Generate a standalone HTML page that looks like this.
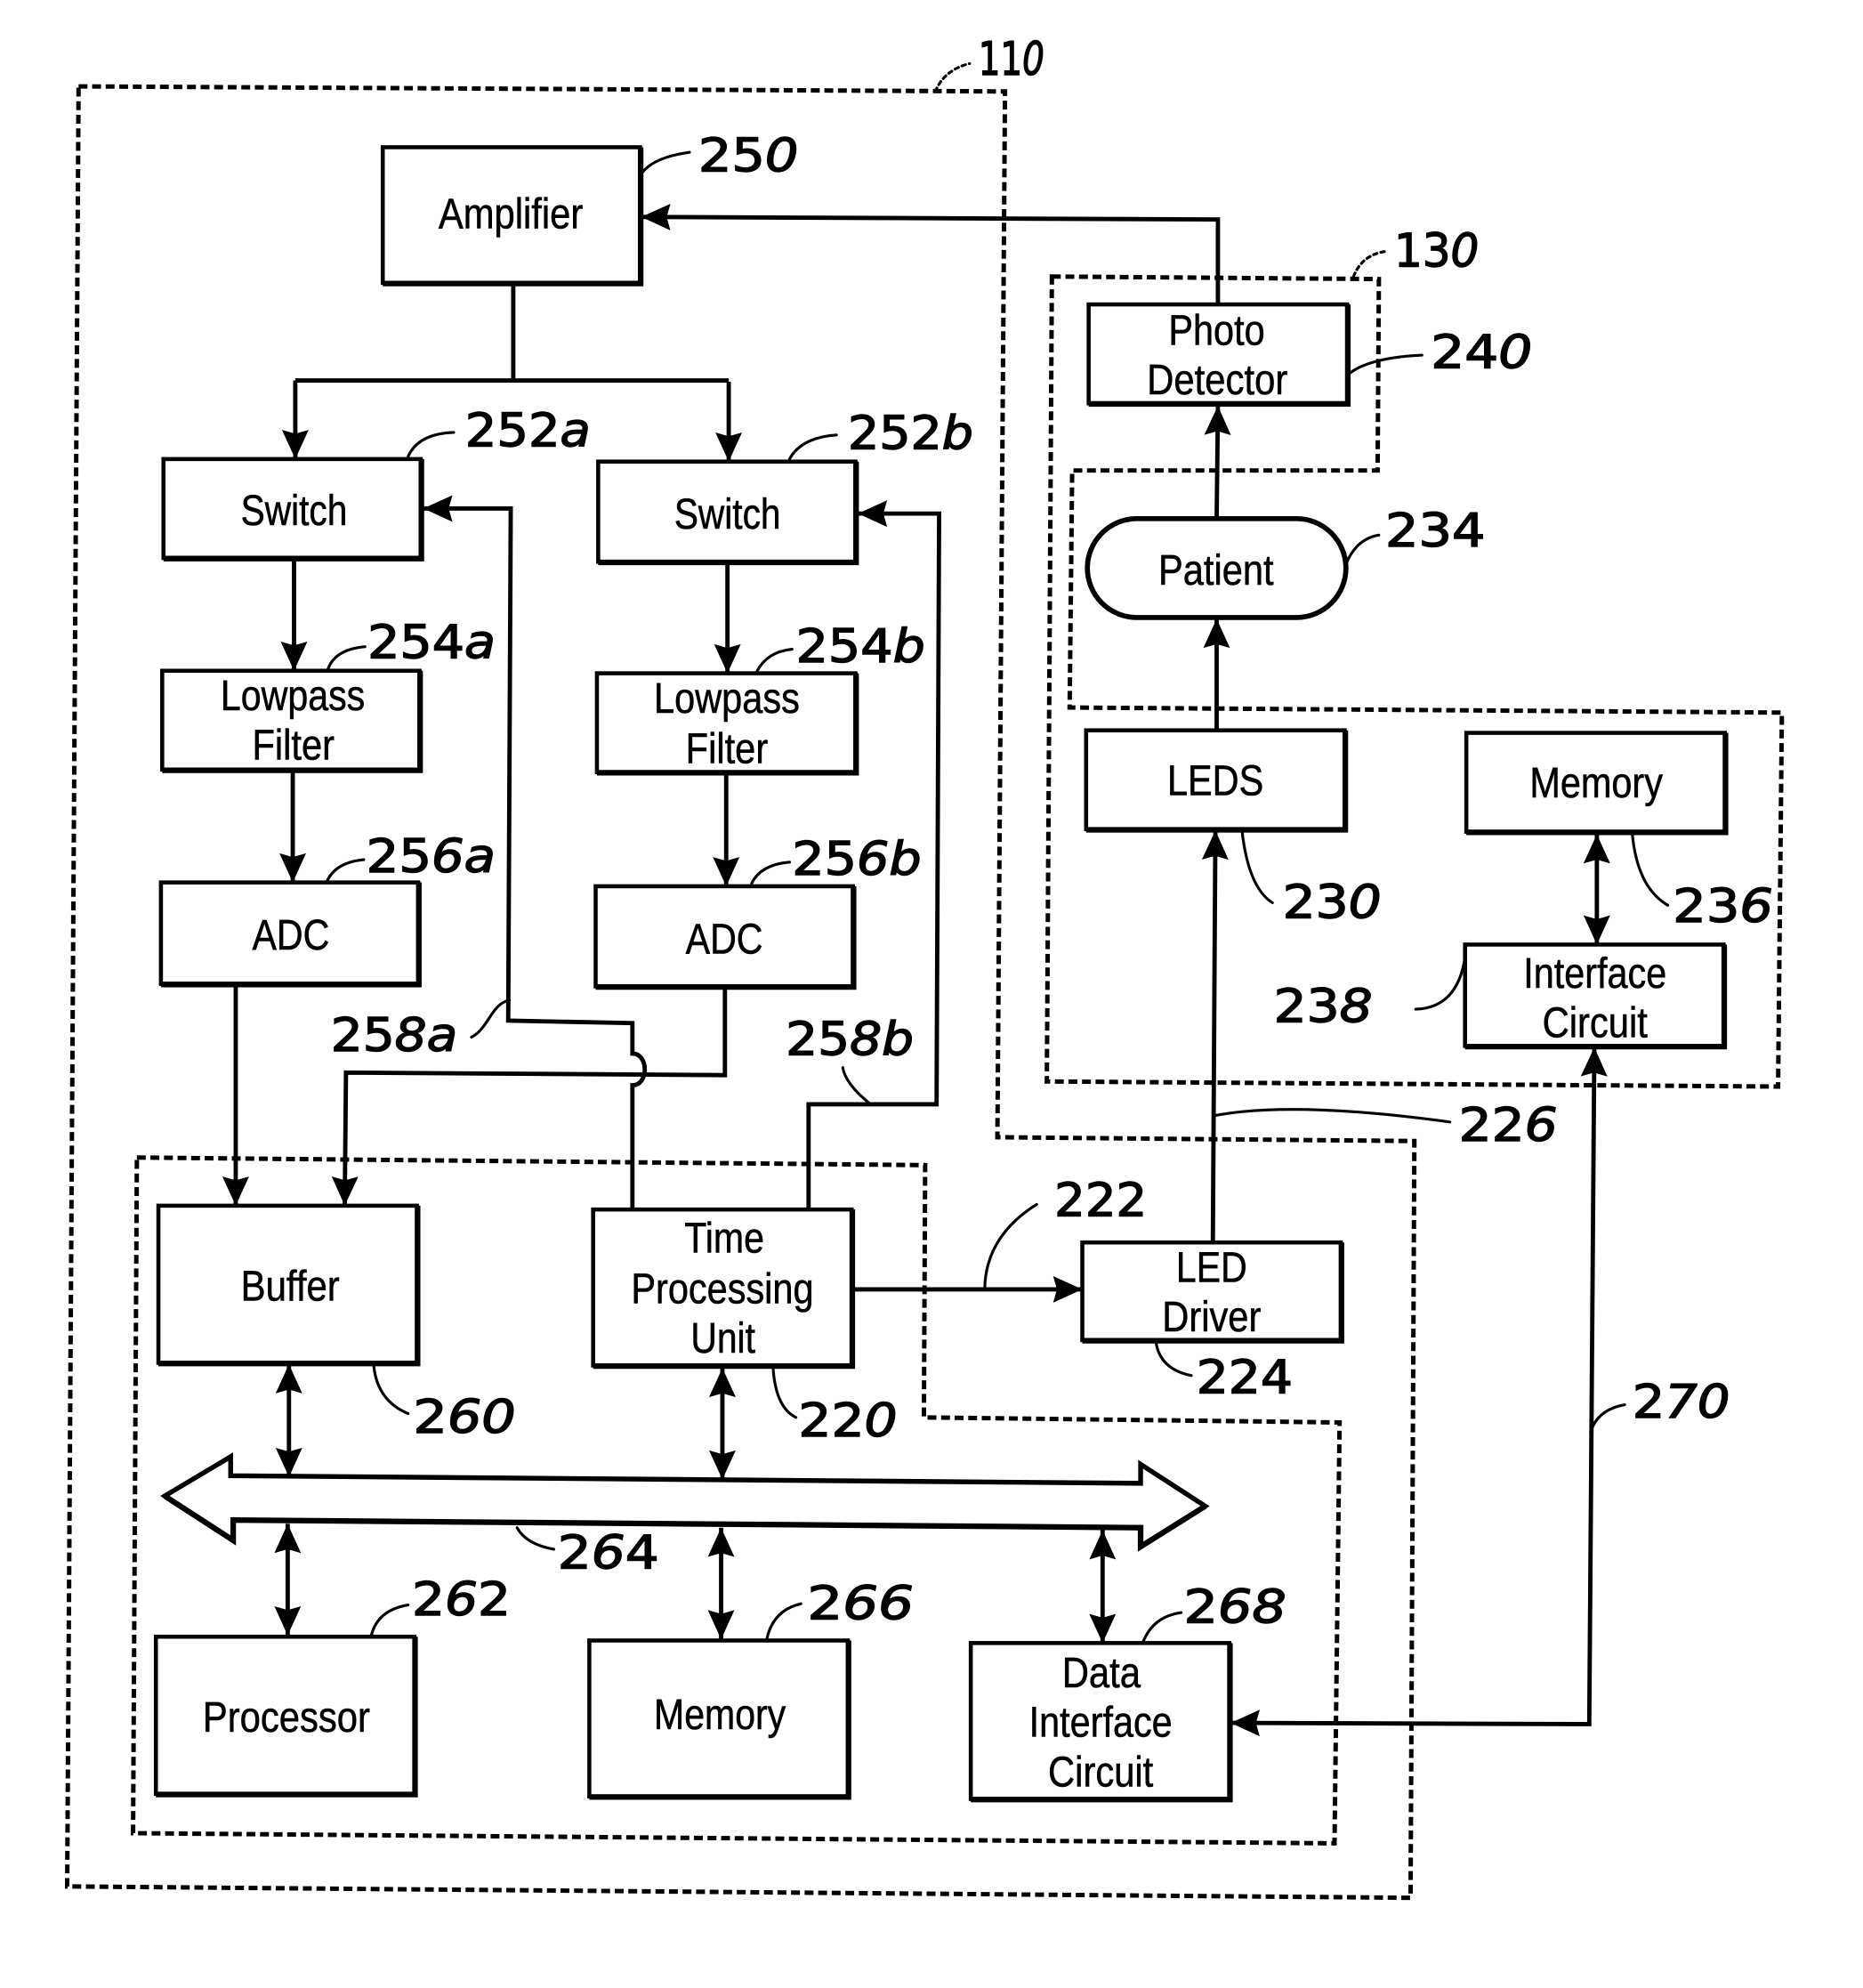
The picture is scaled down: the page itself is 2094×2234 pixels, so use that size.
<!DOCTYPE html>
<html><head><meta charset="utf-8"><title>Block diagram</title>
<style>
html,body{margin:0;padding:0;background:#fff}
svg{display:block}
.b{fill:none;stroke:#000;stroke-width:3.2}
.k{fill:none;stroke:#000;stroke-width:4.4}
.c{fill:none;stroke:#000;stroke-width:3.4;stroke-linejoin:miter}
.d{fill:none;stroke:#000;stroke-width:3.5;stroke-dasharray:7 3.7}
.l{fill:none;stroke:#000;stroke-width:2.2;stroke-linecap:round}
.t{font-family:"Liberation Sans",sans-serif;font-size:34px;fill:#000;stroke:#000;stroke-width:.4}
.n{font-family:"DejaVu Sans",sans-serif;font-size:36px;fill:#000;stroke:#000;stroke-width:1}
.n tspan{font-style:oblique}
</style></head><body>
<svg xmlns="http://www.w3.org/2000/svg" width="2094" height="2234" viewBox="0 0 1470 1568">
<defs>
<marker id="a" markerUnits="userSpaceOnUse" markerWidth="26" markerHeight="26" refX="24" refY="13" orient="auto-start-reverse"><path d="M24 13L1 2.5L4 13L1 23.5Z" fill="#000"/></marker>
</defs>
<rect width="1470" height="1568" fill="#fff"/>

<path class="d" d="M62 68L793 72L787 897L1116 900L1113 1497L53 1488Z"/>
<path class="d" d="M830 218L1088 220L1087 371L846 371L844 558L1406 562L1403 857L826 853Z"/>
<path class="d" d="M108 913L730 919L729 1118L1057 1122L1053 1454L105 1446Z"/>

<path class="c" d="M405 223V300M233 300H575"/>
<path class="c" marker-end="url(#a)" d="M233 300V362"/>
<path class="c" marker-end="url(#a)" d="M575 301V364"/>
<path class="c" marker-end="url(#a)" d="M961 240L961 173L506 171"/>
<path class="c" marker-end="url(#a)" d="M232 440V529"/>
<path class="c" marker-end="url(#a)" d="M574 443V531"/>
<path class="c" marker-end="url(#a)" d="M231 607V696"/>
<path class="c" marker-end="url(#a)" d="M573 609V699"/>
<path class="c" marker-end="url(#a)" d="M186 776V951"/>
<path class="c" marker-end="url(#a)" d="M572 779V848L273 846L272 951"/>
<path class="c" marker-end="url(#a)" d="M499 954V856C512 856 512 831 499 831V807L401 805L403 401H334"/>
<path class="c" marker-end="url(#a)" d="M638 954V871H739L741 405H677"/>
<path class="c" marker-end="url(#a)" d="M960 409L961 320"/>
<path class="c" marker-end="url(#a)" d="M960 576V488"/>
<path class="c" marker-end="url(#a)" d="M957 980L959 655"/>
<path class="c" marker-start="url(#a)" marker-end="url(#a)" d="M1260 658V745"/>
<path class="c" marker-end="url(#a)" d="M672 1017H854"/>
<path class="c" marker-start="url(#a)" marker-end="url(#a)" d="M1258 826L1254 1360L971 1359"/>
<path class="c" marker-start="url(#a)" marker-end="url(#a)" d="M228 1076V1165"/>
<path class="c" marker-start="url(#a)" marker-end="url(#a)" d="M570 1079V1167"/>
<path class="c" marker-start="url(#a)" marker-end="url(#a)" d="M227 1202V1290"/>
<path class="c" marker-start="url(#a)" marker-end="url(#a)" d="M569 1205V1293"/>
<path class="c" marker-start="url(#a)" marker-end="url(#a)" d="M870 1207V1296"/>

<path d="M130 1180L182 1149L182 1164L900 1170L900 1155L951 1188L900 1220L900 1205L184 1199L184 1215Z" fill="#fff" stroke="#000" stroke-width="3.8"/>
<path class="k" stroke-width="5" d="M130 1180L184 1215V1199L900 1205V1220L951 1188"/>

<rect class="b" x="302" y="116" width="203" height="107"/>
<rect class="b" x="129" y="362" width="203" height="78"/>
<rect class="b" x="472" y="364" width="203" height="79"/>
<rect class="b" x="128" y="529" width="203" height="78"/>
<rect class="b" x="471" y="531" width="204" height="78"/>
<rect class="b" x="127" y="696" width="203" height="80"/>
<rect class="b" x="470" y="699" width="203" height="79"/>
<rect class="b" x="859" y="240" width="204" height="78"/>
<rect class="b" x="858" y="409" width="204" height="78" rx="39" ry="39" style="stroke-width:4"/>
<rect class="b" x="857" y="576" width="204" height="78"/>
<rect class="b" x="1157" y="578" width="204" height="78"/>
<rect class="b" x="1156" y="745" width="204" height="80"/>
<rect class="b" x="125" y="951" width="204" height="124"/>
<rect class="b" x="468" y="954" width="204" height="123"/>
<rect class="b" x="854" y="980" width="204" height="77"/>
<rect class="b" x="123" y="1291" width="204" height="124"/>
<rect class="b" x="465" y="1294" width="204" height="123"/>
<rect class="b" x="766" y="1296" width="204" height="123"/>
<path class="k" d="M505.5 116V223.5H302M332.5 362V440.5H129M675.5 364V443.5H472M331.5 529V607.5H128M675.5 531V609.5H471M330.5 696V776.5H127M673.5 699V778.5H470M1063.5 240V318.5H859M1061.5 576V654.5H857M1361.5 578V656.5H1157M1360.5 745V825.5H1156M329.5 951V1075.5H125M672.5 954V1077.5H468M1058.5 980V1057.5H854M327.5 1291V1415.5H123M669.5 1294V1417.5H465M970.5 1296V1419.5H766"/>

<path class="l" d="M506 137Q515 124 544 120M322 360Q330 342 358 341M623 362Q632 345 660 343M259 527Q265 512 288 510M597 530Q605 514 625 512M258 695Q265 680 287 678M593 697Q600 682 623 680M372 818C385 812 388 791 402 789M665 842Q667 855 687 871M295 1078Q298 1105 322 1115M610 1079Q612 1110 628 1118M408 1205Q415 1218 437 1222M293 1290Q298 1270 322 1266M605 1293Q610 1270 632 1265M902 1295Q910 1275 932 1272M1255 1130Q1260 1112 1282 1108M912 1058Q915 1080 940 1085M777 1016Q778 975 818 950M958 880Q1020 868 1144 885M980 655Q985 700 1004 712M1288 658Q1292 700 1316 714M1117 796Q1150 795 1156 755M1062 445Q1070 425 1088 422M1064 295Q1080 282 1122 280"/>
<path class="l" stroke-dasharray="3 3" d="M1068 218Q1075 200 1095 198M738 72Q745 55 765 50"/>

<g class="t">
<text x="346" y="180" textLength="114" lengthAdjust="spacingAndGlyphs">Amplifier</text>
<text x="190" y="414" textLength="84" lengthAdjust="spacingAndGlyphs">Switch</text>
<text x="532" y="417" textLength="84" lengthAdjust="spacingAndGlyphs">Switch</text>
<text x="174" y="560" textLength="114" lengthAdjust="spacingAndGlyphs">Lowpass</text>
<text x="199" y="599" textLength="65" lengthAdjust="spacingAndGlyphs">Filter</text>
<text x="516" y="562" textLength="115" lengthAdjust="spacingAndGlyphs">Lowpass</text>
<text x="541" y="602" textLength="65" lengthAdjust="spacingAndGlyphs">Filter</text>
<text x="199" y="749" textLength="61" lengthAdjust="spacingAndGlyphs">ADC</text>
<text x="541" y="752" textLength="61" lengthAdjust="spacingAndGlyphs">ADC</text>
<text x="922" y="272" textLength="76" lengthAdjust="spacingAndGlyphs">Photo</text>
<text x="905" y="311" textLength="111" lengthAdjust="spacingAndGlyphs">Detector</text>
<text x="914" y="461" textLength="91" lengthAdjust="spacingAndGlyphs">Patient</text>
<text x="921" y="627" textLength="76" lengthAdjust="spacingAndGlyphs">LEDS</text>
<text x="1207" y="629" textLength="105" lengthAdjust="spacingAndGlyphs">Memory</text>
<text x="1202" y="779" textLength="113" lengthAdjust="spacingAndGlyphs">Interface</text>
<text x="1217" y="818" textLength="83" lengthAdjust="spacingAndGlyphs">Circuit</text>
<text x="190" y="1026" textLength="78" lengthAdjust="spacingAndGlyphs">Buffer</text>
<text x="540" y="988" textLength="63" lengthAdjust="spacingAndGlyphs">Time</text>
<text x="498" y="1028" textLength="144" lengthAdjust="spacingAndGlyphs">Processing</text>
<text x="545" y="1067" textLength="51" lengthAdjust="spacingAndGlyphs">Unit</text>
<text x="928" y="1011" textLength="56" lengthAdjust="spacingAndGlyphs">LED</text>
<text x="917" y="1050" textLength="78" lengthAdjust="spacingAndGlyphs">Driver</text>
<text x="160" y="1366" textLength="132" lengthAdjust="spacingAndGlyphs">Processor</text>
<text x="516" y="1364" textLength="104" lengthAdjust="spacingAndGlyphs">Memory</text>
<text x="838" y="1331" textLength="62" lengthAdjust="spacingAndGlyphs">Data</text>
<text x="812" y="1370" textLength="113" lengthAdjust="spacingAndGlyphs">Interface</text>
<text x="827" y="1409" textLength="83" lengthAdjust="spacingAndGlyphs">Circuit</text>
</g>

<g class="n">
<text x="772" y="59" textLength="52" lengthAdjust="spacingAndGlyphs">11<tspan>0</tspan></text>
<text x="551" y="135" textLength="79" lengthAdjust="spacingAndGlyphs">25<tspan>0</tspan></text>
<text x="367" y="352" textLength="99" lengthAdjust="spacingAndGlyphs">252<tspan>a</tspan></text>
<text x="669" y="354" textLength="99" lengthAdjust="spacingAndGlyphs">252<tspan>b</tspan></text>
<text x="290" y="519" textLength="101" lengthAdjust="spacingAndGlyphs">254<tspan>a</tspan></text>
<text x="628" y="522" textLength="102" lengthAdjust="spacingAndGlyphs">254<tspan>b</tspan></text>
<text x="289" y="688" textLength="102" lengthAdjust="spacingAndGlyphs">25<tspan>6a</tspan></text>
<text x="625" y="690" textLength="102" lengthAdjust="spacingAndGlyphs">25<tspan>6b</tspan></text>
<text x="261" y="829" textLength="100" lengthAdjust="spacingAndGlyphs">25<tspan>8a</tspan></text>
<text x="620" y="832" textLength="101" lengthAdjust="spacingAndGlyphs">25<tspan>8b</tspan></text>
<text x="326" y="1130" textLength="81" lengthAdjust="spacingAndGlyphs">2<tspan>60</tspan></text>
<text x="630" y="1133" textLength="78" lengthAdjust="spacingAndGlyphs">22<tspan>0</tspan></text>
<text x="440" y="1237" textLength="80" lengthAdjust="spacingAndGlyphs">2<tspan>6</tspan>4</text>
<text x="325" y="1274" textLength="78" lengthAdjust="spacingAndGlyphs">2<tspan>6</tspan>2</text>
<text x="637" y="1277" textLength="84" lengthAdjust="spacingAndGlyphs">2<tspan>66</tspan></text>
<text x="934" y="1280" textLength="81" lengthAdjust="spacingAndGlyphs">2<tspan>68</tspan></text>
<text x="832" y="959" textLength="73" lengthAdjust="spacingAndGlyphs">222</text>
<text x="944" y="1099" textLength="76" lengthAdjust="spacingAndGlyphs">224</text>
<text x="1151" y="900" textLength="78" lengthAdjust="spacingAndGlyphs">22<tspan>6</tspan></text>
<text x="1288" y="1118" textLength="77" lengthAdjust="spacingAndGlyphs">2<tspan>70</tspan></text>
<text x="1100" y="210" textLength="67" lengthAdjust="spacingAndGlyphs">13<tspan>0</tspan></text>
<text x="1129" y="290" textLength="80" lengthAdjust="spacingAndGlyphs">24<tspan>0</tspan></text>
<text x="1093" y="431" textLength="79" lengthAdjust="spacingAndGlyphs">234</text>
<text x="1012" y="724" textLength="78" lengthAdjust="spacingAndGlyphs">23<tspan>0</tspan></text>
<text x="1320" y="727" textLength="79" lengthAdjust="spacingAndGlyphs">23<tspan>6</tspan></text>
<text x="1005" y="806" textLength="78" lengthAdjust="spacingAndGlyphs">23<tspan>8</tspan></text>
</g>
</svg>
</body></html>
